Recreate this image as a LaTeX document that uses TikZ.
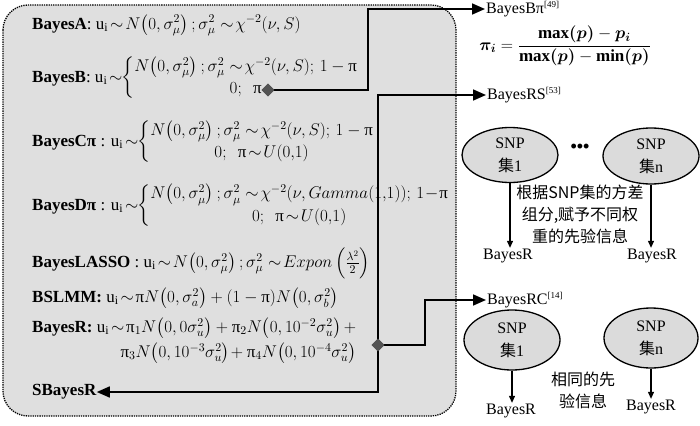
\documentclass[tikz,border=0pt]{standalone}
\usepackage{fix-cm}
\usepackage{amsmath,bm}
\usepackage{fontspec}
\setmainfont{Liberation Serif}
\newfontfamily\cjk{Noto Sans CJK SC}
\usetikzlibrary{arrows.meta,shapes.geometric}
\newcommand\bpfml{$\bm{\pi_i}=\dfrac{\mathbf{max}\bm{(p)}-\bm{p_i}}{\mathbf{max}\bm{(p)}-\mathbf{min}\bm{(p)}}$}
\newcommand\refsup[1]{\textsuperscript{\fontsize{9}{9}\selectfont[#1]}}
\newcommand\tsim{\mathrel{\mkern-3mu\sim\mkern-3mu}}
\newcommand\tpi{\text{π}}
\begin{document}
\begin{tikzpicture}[x=1pt,y=-1pt,
  eq/.style={anchor=west,inner sep=0pt,font=\fontsize{17}{20}\selectfont},
  lbl/.style={inner sep=1pt,font=\fontsize{16}{19}\selectfont},
  fm/.style={inner sep=0pt,font=\fontsize{17}{20}\selectfont},
  snp/.style={ellipse,draw=black,line width=1.3pt,fill=gray!28,inner sep=0pt,align=center,font=\fontsize{16}{23}\selectfont},
  cn/.style={align=center,inner sep=0pt,font=\cjk\fontsize{16}{22}\selectfont},
  conn/.style={line width=1.6pt,-{Triangle[length=13pt,width=11pt]}},
  thin/.style={line width=1.1pt,-{Triangle[length=7pt,width=6pt]}},
  dmd/.style={diamond,fill=gray!65!black,inner sep=0pt,minimum size=13pt}]
\useasboundingbox (0,0) rectangle (700,425);
% main box
\draw[line width=1.3pt,densely dotted,fill=gray!25,rounded corners=25pt] (3,5) rectangle (456,416);

% left formulas
\node[eq] (bA) at (32,25) {\textbf{BayesA}: $\mathrm{u_i}\tsim N\!\left(0,\sigma_\mu^2\right);\sigma_\mu^2\,\tsim\chi^{-2}(\nu,S)$};
\node[eq] (bB) at (32,78) {\textbf{BayesB}: $\mathrm{u_i}\tsim\!\left\{\begin{array}{@{}c@{}}N\!\left(0,\sigma_\mu^2\right);\sigma_\mu^2\,\tsim\chi^{-2}(\nu,S);\,1-\tpi\\[2pt] 0;\ \ \tpi\end{array}\right.$};
\node[eq] (bC) at (32,142) {\textbf{BayesCπ} : $\mathrm{u_i}\tsim\!\left\{\begin{array}{@{}c@{}}N\!\left(0,\sigma_\mu^2\right);\sigma_\mu^2\,\tsim\chi^{-2}(\nu,S);\,1-\tpi\\[2pt] 0;\ \ \tpi\tsim U(0{,}1)\end{array}\right.$};
\node[eq] (bD) at (32,206) {\textbf{BayesDπ} : $\mathrm{u_i}\tsim\!\left\{\begin{array}{@{}c@{}}N\!\left(0,\sigma_\mu^2\right);\sigma_\mu^2\,\tsim\chi^{-2}(\nu,Gamma(1{,}1));\,1\!-\!\tpi\\[3pt] 0;\ \ \tpi\tsim U(0{,}1)\end{array}\right.$};
\node[eq] (bL) at (32,263) {\textbf{BayesLASSO} : $\mathrm{u_i}\tsim N\!\left(0,\sigma_\mu^2\right);\sigma_\mu^2\,\tsim Expon\left(\frac{\lambda^2}{2}\right)$};
\node[eq] (bS) at (32,298) {\textbf{BSLMM:} $\mathrm{u_i}\tsim\tpi N\!\left(0,\sigma_a^2\right)+(1-\tpi)N\!\left(0,\sigma_b^2\right)$};
\node[eq] (bR) at (32,328) {\textbf{BayesR:} $\mathrm{u_i}\tsim\tpi_1N\!\left(0,0\sigma_u^2\right)+\tpi_2N\!\left(0,10^{-2}\sigma_u^2\right)+$};
\coordinate (yR2) at (0,353);
\node[eq,anchor=east] (bR2) at (bR.east |- yR2) {$\tpi_3N\!\left(0,10^{-3}\sigma_u^2\right)\!+\tpi_4N\!\left(0,10^{-4}\sigma_u^2\right)$};
\node[eq] (sbr) at (32,392) {\textbf{SBayesR}};

% right side labels
\node[lbl,anchor=west] (bbpi) at (485,9) {BayesBπ\refsup{49}};
\node[fm] (fml) at (565,46) {\bpfml};
\node[lbl,anchor=west] (brs) at (486,95) {BayesRS\refsup{53}};
\node[lbl,anchor=west] (brc) at (486,300) {BayesRC\refsup{14}};

% diamonds and connectors
\node[dmd] (d1) at (268,90) {};
\node[dmd] (d2) at (378,345) {};
\coordinate (k1) at (368,90);
\draw[conn] (d1.center) -- (k1) |- (bbpi.west);
\draw[conn] (d2.center) |- (brs.west);
\draw[conn] (d2.center) |- (sbr.east);
\coordinate (k2) at (425,345);
\draw[conn] (d2.center) -- (k2) |- (brc.west);
\node[dmd] at (d1) {};
\node[dmd] at (d2) {};

% BayesRS part
\node[snp,minimum width=96pt,minimum height=55pt] (e1) at (510,155) {SNP\\{\cjk 集}1};
\node[snp,minimum width=96pt,minimum height=56pt] (e2) at (651,156) {SNP\\{\cjk 集}n};
\node[font=\fontsize{18}{18}\selectfont\bfseries,inner sep=0pt] (dots) at (580,148) {•••};
\node[lbl] (r1) at (508,256) {BayesR};
\node[lbl] (r2) at (652,256) {BayesR};
\draw[thin] (e1.south) -- (e1.south |- r1.north);
\draw[thin] (e2.south) -- (e2.south |- r2.north);
\node[cn] (t1) at (580,214) {根据SNP集的方差\\组分,赋予不同权\\重的先验信息};

% BayesRC part
\node[snp,minimum width=96pt,minimum height=60pt] (e3) at (512,340) {SNP\\{\cjk 集}1};
\node[snp,minimum width=94pt,minimum height=60pt] (e4) at (651,338) {SNP\\{\cjk 集}n};
\node[lbl] (r3) at (511,411) {BayesR};
\node[lbl] (r4) at (651,407) {BayesR};
\draw[thin] (e3.south) -- (e3.south |- r3.north);
\draw[thin] (e4.south) -- (e4.south |- r4.north);
\node[cn] (t2) at (583,390) {相同的先\\验信息};
\end{tikzpicture}
\end{document}
